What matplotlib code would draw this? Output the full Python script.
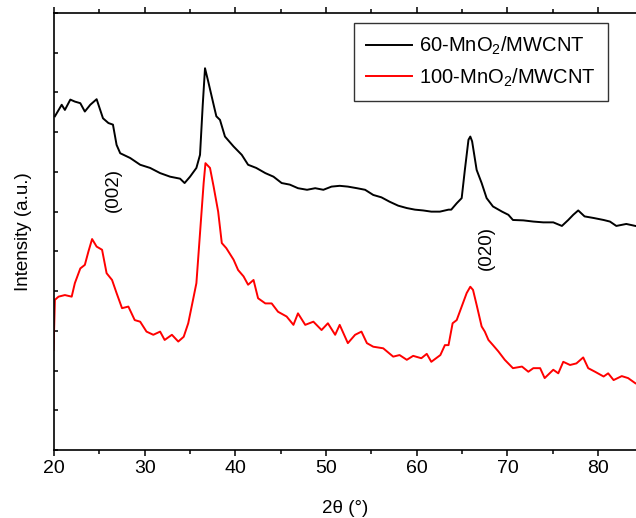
import numpy as np
import matplotlib
matplotlib.use('Agg')
import matplotlib.pyplot as plt

plt.rcParams['font.family'] = ['Liberation Sans', 'DejaVu Sans']
plt.rcParams['mathtext.default'] = 'regular'

# 60-MnO2/MWCNT (black), 2theta vs intensity (a.u.)
x_60 = [20.1, 20.85, 21.2, 21.8, 22.3, 22.9, 23.4, 24.0, 24.7, 25.4, 26.0, 26.5, 26.9, 27.3,
        28.4, 29.5, 30.6, 31.7, 32.8, 33.9, 34.4, 35.0, 35.7, 36.1, 36.4, 36.65, 37.0, 37.6,
        37.9, 38.3, 38.85, 39.8, 40.7, 41.4, 42.3, 43.3, 44.2, 45.1, 46.0, 46.9, 47.9, 48.8,
        49.7, 50.6, 51.5, 52.4, 53.4, 54.3, 55.2, 56.1, 57.0, 57.95, 58.9, 59.8, 60.7, 61.6,
        62.55, 63.5, 63.8, 64.4, 64.95, 65.3, 65.7, 65.9, 66.1, 66.6, 67.15, 67.7, 68.4, 69.4,
        70.1, 70.6, 71.75, 72.85, 73.95, 75.05, 76.0, 76.7, 77.25, 77.8, 78.5, 79.5, 80.6,
        81.3, 82.0, 83.1, 84.1]
y_60 = [8.40, 8.69, 8.56, 8.82, 8.77, 8.73, 8.52, 8.69, 8.83, 8.35, 8.23, 8.19, 7.68, 7.47,
        7.35, 7.18, 7.10, 6.97, 6.88, 6.83, 6.72, 6.88, 7.10, 7.43, 8.69, 9.61, 9.28, 8.69,
        8.40, 8.31, 7.89, 7.64, 7.43, 7.18, 7.10, 6.97, 6.88, 6.72, 6.68, 6.59, 6.55, 6.59,
        6.55, 6.63, 6.65, 6.63, 6.59, 6.55, 6.42, 6.36, 6.25, 6.15, 6.09, 6.05, 6.03, 6.00,
        6.00, 6.05, 6.05, 6.21, 6.34, 7.05, 7.81, 7.89, 7.77, 7.05, 6.72, 6.34, 6.13, 6.00,
        5.92, 5.79, 5.78, 5.75, 5.73, 5.73, 5.64, 5.79, 5.92, 6.03, 5.88, 5.84, 5.79,
        5.75, 5.64, 5.69, 5.64]

# 100-MnO2/MWCNT (red)
x_100 = [19.95, 20.1, 20.5, 21.2, 21.95, 22.3, 22.9, 23.4, 23.8, 24.2, 24.7, 25.3, 25.8, 26.4,
         26.9, 27.5, 28.2, 28.9, 29.5, 30.2, 30.95, 31.7, 32.2, 33.0, 33.7, 34.3, 34.8, 35.4,
         35.7, 36.1, 36.5, 36.7, 37.2, 37.6, 38.1, 38.5, 39.0, 39.8, 40.3, 40.9, 41.4, 42.0,
         42.5, 43.3, 44.0, 44.7, 45.65, 46.4, 46.9, 47.7, 48.6, 49.5, 50.2, 51.0, 51.5, 52.4,
         53.2, 53.9, 54.5, 55.2, 56.3, 57.4, 58.1, 58.9, 59.6, 60.5, 61.1, 61.6, 62.6, 63.1,
         63.5, 63.95, 64.4, 64.95, 65.5, 65.9, 66.2, 66.6, 67.15, 67.5, 67.9, 68.4, 69.0, 69.7,
         70.6, 71.6, 72.3, 72.85, 73.6, 74.1, 75.05, 75.6, 76.15, 76.9, 77.6, 78.35, 78.9,
         79.65, 80.6, 81.1, 81.7, 82.6, 83.3, 84.1]
y_100 = [2.52, 3.78, 3.86, 3.90, 3.86, 4.20, 4.57, 4.66, 5.00, 5.31, 5.12, 5.04, 4.45, 4.28,
         3.95, 3.57, 3.61, 3.27, 3.23, 2.98, 2.90, 2.98, 2.77, 2.90, 2.73, 2.85, 3.19, 3.86,
         4.20, 5.46, 6.72, 7.22, 7.10, 6.63, 6.00, 5.21, 5.08, 4.79, 4.53, 4.37, 4.16, 4.28,
         3.82, 3.69, 3.69, 3.48, 3.36, 3.15, 3.44, 3.15, 3.23, 3.02, 3.19, 2.90, 3.15, 2.69,
         2.90, 2.98, 2.69, 2.60, 2.56, 2.35, 2.39, 2.27, 2.37, 2.31, 2.42, 2.22, 2.39, 2.64,
         2.64, 3.19, 3.27, 3.61, 3.95, 4.11, 4.03, 3.65, 3.11, 2.98, 2.77, 2.64, 2.48, 2.27,
         2.06, 2.10, 1.97, 2.06, 2.06, 1.81, 2.02, 1.93, 2.22, 2.14, 2.18, 2.33, 2.06,
         1.97, 1.85, 1.93, 1.76, 1.86, 1.81, 1.68]

labels = ['60-MnO$_2$/MWCNT', '100-MnO$_2$/MWCNT']
peak_labels = ['(002)', '(020)']
peak_pos = [(26.5, 6.55), (67.7, 5.09)]

fig = plt.figure(figsize=(6.36, 5.18), dpi=100)
ax = fig.add_axes([54/636, 68/518, 582/636, 437/518])

ax.plot(x_60, y_60, color='black', lw=1.4, label=labels[0])
ax.plot(x_100, y_100, color='red', lw=1.4, label=labels[1])

for txt, (px, py) in zip(peak_labels, peak_pos):
    ax.text(px, py, txt, rotation=90, ha='center', va='center', fontsize=13.5)

ax.set_xlim(20, 84.17)
ax.set_ylim(0, 11)
ax.set_xticks([20, 30, 40, 50, 60, 70, 80])
ax.set_xticks(np.arange(25, 85, 10), minor=True)
ax.set_yticks(np.arange(0, 12, 1))
ax.set_yticklabels([])
ax.tick_params(axis='x', which='major', direction='out', length=4, width=1.1,
               labelsize=14, top=True)
ax.tick_params(axis='x', which='minor', direction='out', length=3, width=1.1, top=True)
ax.tick_params(axis='y', which='major', direction='in', length=3, width=1.1, right=False)
ax.spines['right'].set_visible(False)
for s in ['left', 'top', 'bottom']:
    ax.spines[s].set_linewidth(1.2)

ax.set_xlabel('2θ (°)', fontsize=13.5, labelpad=16)
ax.set_ylabel('Intensity (a.u.)', fontsize=13.5, labelpad=12)

leg = ax.legend(loc='upper right', bbox_to_anchor=(0.952, 0.977), borderaxespad=0,
                fontsize=14.5, frameon=True, fancybox=False, edgecolor='black',
                handlelength=2.3, handletextpad=0.35, labelspacing=0.45, borderpad=0.6)
leg.get_frame().set_linewidth(1.0)

fig.savefig('out.png', dpi=100)
